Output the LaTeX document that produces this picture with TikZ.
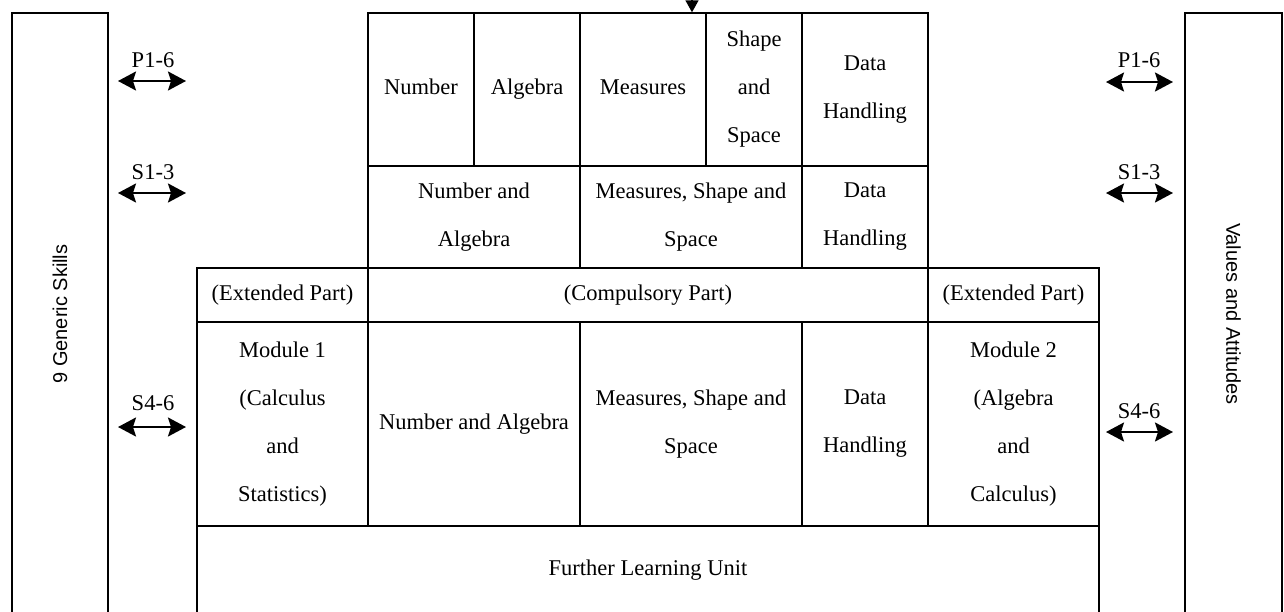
\documentclass[tikz,border=0pt]{standalone}
\usepackage{fontspec}
\setmainfont{Liberation Serif}
\newfontfamily\sidefont{Liberation Sans}
\usetikzlibrary{arrows.meta}
\tikzset{
  cellbox/.style={draw, line width=1.4pt, inner sep=0pt, align=center, font=\fontsize{22.5}{48}\selectfont},
  sidebox/.style={cellbox, font=\sidefont\fontsize{20}{24}\selectfont},
  stagelabel/.style={inner sep=0pt, font=\fontsize{22.5}{27}\selectfont},
  linkarrow/.style={{Stealth[length=18pt,width=19pt,inset=3pt]}-{Stealth[length=18pt,width=19pt,inset=3pt]}, line width=2pt},
}
\begin{document}
\begin{tikzpicture}[x=1pt, y=-1pt]
\useasboundingbox (0,0) rectangle (1284,611);
\clip (0,0) rectangle (1284,611);
\node[sidebox, rotate=90, minimum width=602pt, minimum height=96pt] (skills) at (60,314) {9 Generic Skills};
\node[sidebox, rotate=-90, minimum width=602pt, minimum height=97pt] (values) at (1233.5,314) {Values and Attitudes};
\node[cellbox, minimum width=106pt, minimum height=153pt] (number) at (421,89.5) {Number\vphantom{g}};
\node[cellbox, minimum width=106pt, minimum height=153pt] (algebra) at (527,89.5) {Algebra};
\node[cellbox, minimum width=126pt, minimum height=153pt] (measures) at (643,89.5) {Measures\vphantom{g}};
\node[cellbox, minimum width=96pt, minimum height=153pt] (shape) at (754,89.5) {Shape\\and\\Space};
\node[cellbox, minimum width=126pt, minimum height=153pt] (dataP) at (865,89.5) {Data\\Handling};
\node[cellbox, minimum width=212pt, minimum height=102pt] (numalgS) at (474,217) {Number and\\Algebra};
\node[cellbox, minimum width=222pt, minimum height=102pt] (mssS) at (691,217) {Measures, Shape and\\Space};
\node[cellbox, minimum width=126pt, minimum height=102pt] (dataS) at (865,217) {Data\\Handling};
\node[cellbox, minimum width=171pt, minimum height=54pt] (extA) at (282.5,295) {(Extended Part)};
\node[cellbox, minimum width=560pt, minimum height=54pt] (compulsory) at (648,295) {(Compulsory Part)};
\node[cellbox, minimum width=171pt, minimum height=54pt] (extB) at (1013.5,295) {(Extended Part)};
\node[cellbox, minimum width=171pt, minimum height=204pt] (moduleA) at (282.5,424) {Module 1\\(Calculus\\and\\Statistics)};
\node[cellbox, minimum width=212pt, minimum height=204pt] (numalgH) at (474,424) {Number and Algebra};
\node[cellbox, minimum width=222pt, minimum height=204pt] (mssH) at (691,424) {Measures, Shape and\\Space};
\node[cellbox, minimum width=126pt, minimum height=204pt] (dataH) at (865,424) {Data\\Handling};
\node[cellbox, minimum width=171pt, minimum height=204pt] (moduleB) at (1013.5,424) {Module 2\\(Algebra\\and\\Calculus)};
\node[cellbox, minimum width=902pt, minimum height=89pt] (further) at (648,570.5) {Further Learning Unit};
\coordinate (feed) at (692,-40);
\draw[-{Triangle[length=12pt,width=13pt]}, line width=1.4pt] (feed) -- (feed |- measures.north);
\coordinate (pLa) at (118,81);
\coordinate (pLb) at (186,81);
\coordinate (sLa) at (118,193);
\coordinate (sLb) at (186,193);
\coordinate (hLa) at (118,427);
\coordinate (hLb) at (186,427);
\coordinate (pRa) at (1106,82);
\coordinate (pRb) at (1173,82);
\coordinate (sRa) at (1106,193);
\coordinate (sRb) at (1173,193);
\coordinate (hRa) at (1106,432);
\coordinate (hRb) at (1173,432);
\node[stagelabel] (pL) at (153,60) {P1-6};
\node[stagelabel] (sL) at (153,172) {S1-3};
\node[stagelabel] (hL) at (153,403) {S4-6};
\node[stagelabel] (pR) at (1139,60) {P1-6};
\node[stagelabel] (sR) at (1139,172) {S1-3};
\node[stagelabel] (hR) at (1139,411) {S4-6};
\draw[linkarrow] (pLa) -- (pLb);
\draw[linkarrow] (sLa) -- (sLb);
\draw[linkarrow] (hLa) -- (hLb);
\draw[linkarrow] (pRa) -- (pRb);
\draw[linkarrow] (sRa) -- (sRb);
\draw[linkarrow] (hRa) -- (hRb);
\end{tikzpicture}
\end{document}
